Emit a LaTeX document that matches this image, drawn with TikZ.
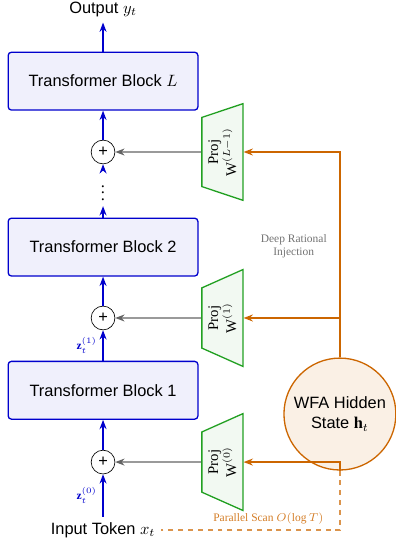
\documentclass[tikz,border=0pt]{standalone}
\usepackage{amsmath}
\usepackage{bm}
\usepackage{fontspec}
\setmainfont{Liberation Serif}
\setsansfont{Liberation Sans}
\usepackage{tikz}
\usepackage{xcolor}
\usetikzlibrary{shapes.geometric, arrows.meta, positioning, calc}
\definecolor{cBlue}{RGB}{0,0,205}
\definecolor{cGreen}{RGB}{34,160,34}
\definecolor{cOrange}{RGB}{204,102,0}
\definecolor{cGray}{RGB}{100,100,100}
\tikzset{
	block/.style   ={rectangle, rounded corners=2pt, minimum width=4.07cm, minimum height=1.24cm, text centered, draw=cBlue, thick, fill=cBlue!6, font=\sffamily},
	addnode/.style ={circle, draw=black, fill=white, minimum size=0.51cm, inner sep=0pt, font=\sffamily},
	proj/.style    ={trapezium, trapezium angle=72, trapezium stretches=true, rotate=90, minimum width=2.08cm, minimum height=0.88cm, draw=cGreen, thick, fill=cGreen!6, align=center, font=\small, inner sep=1pt},
	wfanode/.style ={circle, minimum size=2.40cm, draw=cOrange, thick, fill=cOrange!10, align=center, font=\sffamily, inner sep=1pt},
	flowarrow/.style={-{Stealth[length=2mm]}, thick, cBlue},
	injarrow/.style ={-{Stealth[length=2mm]}, thick, cOrange},
	mixarrow/.style ={-{Stealth[length=2mm]}, thick, cGray},
	% small labels on the residual stream
	zlab/.style={font=\scriptsize, text=cBlue},
}

\begin{document}
\begin{tikzpicture}
	\useasboundingbox (0,0) rectangle (8.49,11.71);
	% main column
	\node[font=\sffamily] (in) at (2.21,0.34) {Input Token $x_t$};
	\node[addnode] (s0) at (2.21,1.80) {+};
	\node[block] (b1) at (2.21,3.34) {Transformer Block 1};
	\node[addnode] (s1) at (2.21,4.89) {+};
	\node[block] (b2) at (2.21,6.41) {Transformer Block 2};
	\node (dots) at (2.21,7.68) {$\vdots$};
	\node[addnode] (sL) at (2.21,8.45) {+};
	\node[block] (bL) at (2.21,9.97) {Transformer Block $L$};
	\node[font=\sffamily] (out) at (2.21,11.51) {Output $y_t$};

	\draw[flowarrow] (in) -- node[left, zlab] {$\mathbf{z}_t^{(0)}$} (s0);
	\draw[flowarrow] (s0) -- (b1);
	\draw[flowarrow] (b1) -- node[left, zlab] {$\mathbf{z}_t^{(1)}$} (s1);
	\draw[flowarrow] (s1) -- (b2);
	\draw[flowarrow] (b2) -- (dots);
	\draw[flowarrow] (dots) -- (sL);
	\draw[flowarrow] (sL) -- (bL);
	\draw[flowarrow] (bL) -- (out);

	% projections
	\foreach \i/\lab in {0/0, 1/1, L/L-1} {
		\node[proj] (p\i) at ($(s\i)+(2.56,0)$) {Proj\\W$^{(\lab)}$};
		\draw[mixarrow] (p\i.north) -- (s\i.east);
	}

	% WFA state
	\node[wfanode] (wfa) at (7.29,2.83) {WFA Hidden\\State $\mathbf{h}_t$};
	\draw[injarrow] (wfa.south) |- (p0.south);
	\draw[injarrow] (wfa.north) |- (p1.south);
	\draw[injarrow] (wfa.north) |- (pL.south);
	\node[align=center, text=black!55, font=\scriptsize] (inj) at (6.30,6.43) {Deep Rational\\Injection};

	\draw[cOrange!70, dashed, thick] (wfa.south) |- node[pos=0.7, above, text=cOrange!85, font=\scriptsize] {Parallel Scan $O(\log T)$} (in.east);
\end{tikzpicture}
\end{document}
